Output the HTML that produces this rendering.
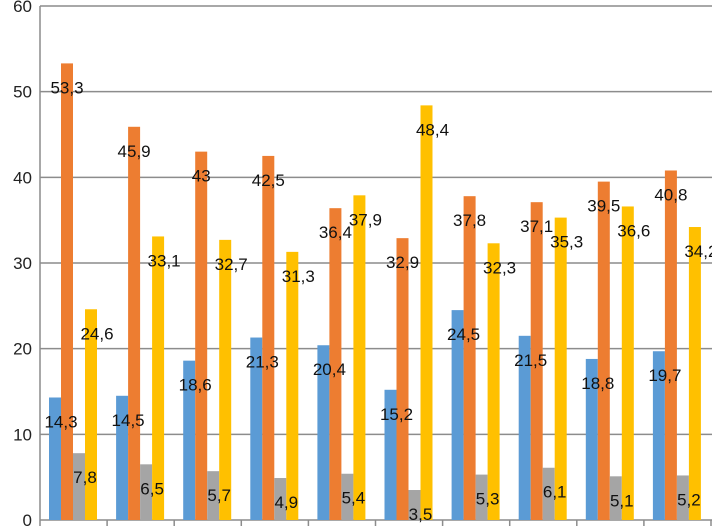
<!DOCTYPE html>
<html><head><meta charset="utf-8"><style>
body{margin:0;background:#fff;}
svg{display:block;font-family:"Liberation Sans",sans-serif;}
</style></head><body>
<svg id="chart" width="712" height="527"></svg>
<script>
const categories=["1","2","3","4","5","6","7","8","9","10"];
const blueValues=[14.3,14.5,18.6,21.3,20.4,15.2,24.5,21.5,18.8,19.7];
const orangeValues=[53.3,45.9,43,42.5,36.4,32.9,37.8,37.1,39.5,40.8];
const grayValues=[7.8,6.5,5.7,4.9,5.4,3.5,5.3,6.1,5.1,5.2];
const yellowValues=[24.6,33.1,32.7,31.3,37.9,48.4,32.3,35.3,36.6,34.2];
const yTicks=[0,10,20,30,40,50,60];
const NS="http://www.w3.org/2000/svg";
const svg=document.getElementById('chart');
const x0=40,y0=520,ppu=(520-6)/60,gw=67.1;
const y=v=>y0-v*ppu;
function mk(t,a){const e=document.createElementNS(NS,t);for(const k in a)e.setAttribute(k,a[k]);svg.appendChild(e);return e;}
yTicks.forEach(t=>{
  const l=mk('line',{x1:x0,x2:712,y1:y(t),y2:y(t),stroke:'#8c8c8c','stroke-width':1.5});
  
  
  const tx=mk('text',{x:x0-8,y:y(t)+6,'text-anchor':'end','font-size':17,fill:'#222'});
  tx.textContent=t;
  
  
});
const ax=mk('line',{x1:x0,x2:x0,y1:y(60),y2:y0+6,stroke:'#8c8c8c','stroke-width':1.5});


categories.forEach((c,i)=>{
  const tk=mk('line',{x1:x0+gw*(i+1),x2:x0+gw*(i+1),y1:y0,y2:y0+6,stroke:'#8c8c8c','stroke-width':1.5});
  
  
});
const series=[[blueValues,'#5b9bd5',6],[orangeValues,'#ed7d31',0],[grayValues,'#a5a5a5',6],[yellowValues,'#ffc000',6]];
const names=['blue','orange','gray','yellow'];
categories.forEach((c,i)=>{
  series.forEach((s,j)=>{
    const v=s[0][i],bx=x0+gw*i+9+j*12;
    const r=mk('rect',{x:bx,y:y(v),width:12,height:y0-y(v),fill:s[1]});
    
    
  });
  series.forEach((s,j)=>{
    const v=s[0][i],bx=x0+gw*i+9+j*12;
    const t=mk('text',{x:bx+6+s[2],y:y(v)+30,'text-anchor':'middle','font-size':17,fill:'#111'});
    t.textContent=String(v).replace('.',',');
    
    
  });
});
</script>
</body></html>
